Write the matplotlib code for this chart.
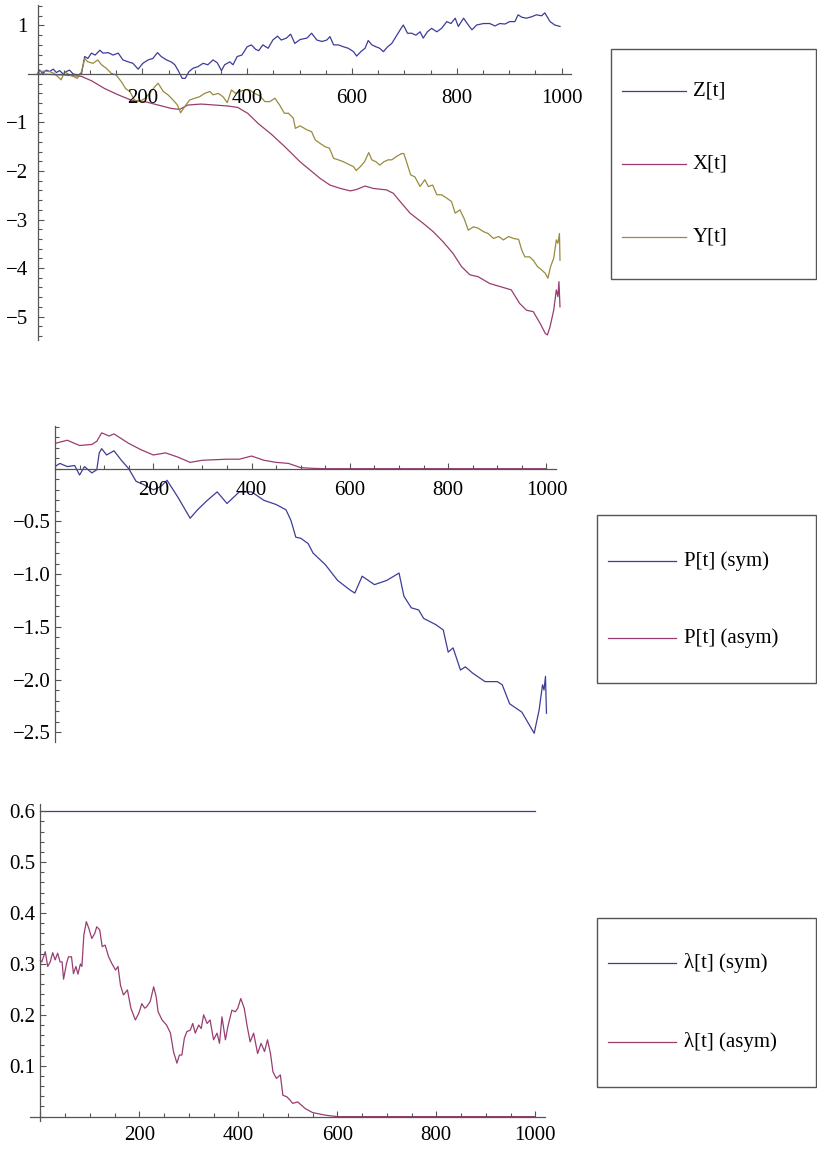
import numpy as np
import matplotlib.pyplot as plt
from matplotlib.patches import Rectangle
from matplotlib.lines import Line2D
from matplotlib.ticker import MultipleLocator, FuncFormatter

# ---- data ----
t_z = [0, 4, 10, 17, 23, 30, 36, 42, 49, 55, 61, 68, 77, 84, 90, 96, 103, 110, 119, 125,
       135, 144, 154, 163, 173, 182, 192, 201, 211, 220, 229, 236, 246, 255, 262, 268, 276, 282,
       289, 297, 306, 316, 325, 335, 343, 351, 357, 367, 373, 381, 390, 400, 408, 416, 422, 430,
       440, 449, 458, 465, 475, 483, 491, 501,
       514, 523, 533, 543, 552, 558, 565, 574, 584, 593, 603, 609, 617, 625, 631, 638, 646, 653,
       660, 668, 676, 684, 692, 698, 706, 714, 722, 730, 736, 744, 752, 762, 771, 781, 789, 797,
       803, 813, 820, 829, 838, 851, 863, 873, 882, 892, 901, 911, 917, 924, 933, 943, 952, 962,
       968, 978, 987, 997]
z_vals = [0.0, 0.08, 0.01, 0.08, 0.05, 0.1, 0.03, 0.07, 0.0, 0.05, 0.08, 0.0, -0.02, 0.01, 0.36,
          0.32, 0.43, 0.39, 0.49, 0.43, 0.44, 0.39, 0.43, 0.29, 0.25, 0.22, 0.1, 0.22, 0.29, 0.32,
          0.44, 0.36, 0.29, 0.25, 0.19, 0.08, -0.09, -0.09, 0.05, 0.12, 0.15, 0.22, 0.19, 0.29,
          0.23, 0.07, 0.19, 0.25, 0.19, 0.36, 0.39, 0.56, 0.6, 0.51, 0.48, 0.6, 0.53, 0.7, 0.78,
          0.7, 0.74, 0.82, 0.63, 0.71,
          0.74, 0.84, 0.7, 0.67, 0.7, 0.77, 0.6, 0.6, 0.56, 0.53, 0.46, 0.37, 0.46, 0.53, 0.69,
          0.6, 0.56, 0.53, 0.46, 0.56, 0.63, 0.77, 0.91, 1.01, 0.84, 0.84, 0.8, 0.87, 0.74, 0.87,
          0.94, 0.87, 0.94, 1.08, 1.04, 1.15, 0.98, 1.15, 1.04, 0.91, 1.01, 1.04, 1.04, 0.99,
          1.04, 1.03, 1.08, 1.08, 1.22, 1.17, 1.15, 1.18, 1.22, 1.2, 1.26, 1.08, 1.01, 0.98]

t_x = [0, 50, 84, 103, 128, 154, 179, 205, 230, 255, 271, 287, 312, 338, 363, 382, 401, 421,
       446, 472, 501, 520, 539, 558, 578, 597, 609, 625, 641, 666, 679, 692, 711, 736, 755, 774,
       793, 809, 825, 841, 863, 882, 904, 920, 933, 946, 959, 969, 973, 978, 985, 990, 993, 995,
       997]
x_vals = [0.0, -0.02, -0.05, -0.14, -0.3, -0.43, -0.54, -0.57, -0.64, -0.71, -0.73, -0.64, -0.62,
          -0.64, -0.66, -0.69, -0.81, -1.02, -1.24, -1.5, -1.81, -1.98, -2.15, -2.29, -2.36,
          -2.41, -2.38, -2.31, -2.36, -2.39, -2.46, -2.63, -2.87, -3.08, -3.25, -3.46, -3.7,
          -3.97, -4.14, -4.18, -4.32, -4.38, -4.45, -4.73, -4.87, -4.9, -5.14, -5.35, -5.38,
          -5.21, -4.87, -4.45, -4.59, -4.28, -4.8]

t_y = [0, 4, 14, 23, 32, 45, 52, 58, 68, 76, 84, 90, 96, 106, 115, 122, 131, 141, 150, 160,
       168, 176, 185, 195, 205, 214, 224, 230, 240, 249, 259, 267, 273, 281, 290, 300, 309, 319,
       329, 335, 345, 354, 362, 370, 378, 386, 395, 405, 414, 424, 434, 443, 453, 462, 471, 479,
       488, 492, 501,
       514, 523, 530, 539, 549, 557, 565, 574, 584, 593, 603, 608, 616, 624, 632, 638, 646, 653,
       661, 669, 676, 685, 695, 699, 705, 712, 720, 730, 739, 746, 754, 762, 771, 781, 790, 797,
       806, 814, 822, 832, 841, 851, 860, 870, 880, 889, 899, 908, 918, 924, 930, 939, 946, 954,
       962, 969, 974, 979, 985, 990, 993, 996, 997]
y_vals = [0.0, 0.05, 0.06, 0.05, 0.01, -0.12, 0.05, 0.0, -0.05, -0.09, 0.05, 0.32, 0.25, 0.22,
          0.29, 0.19, 0.12, 0.01, -0.02, -0.16, -0.3, -0.36, -0.54, -0.57, -0.5, -0.4, -0.26,
          -0.19, -0.36, -0.43, -0.54, -0.64, -0.8, -0.67, -0.54, -0.5, -0.47, -0.4, -0.36, -0.43,
          -0.4, -0.47, -0.59, -0.33, -0.4, -0.36, -0.33, -0.33, -0.4, -0.45, -0.57, -0.57, -0.5,
          -0.64, -0.81, -0.81, -0.91, -1.12, -1.07,
          -1.15, -1.19, -1.36, -1.43, -1.5, -1.53, -1.74, -1.77, -1.81, -1.86, -1.91, -1.99,
          -1.91, -1.81, -1.62, -1.77, -1.81, -1.88, -1.81, -1.77, -1.77, -1.7, -1.64, -1.64,
          -1.84, -2.08, -2.12, -2.32, -2.18, -2.32, -2.29, -2.49, -2.49, -2.56, -2.63, -2.87,
          -2.8, -2.98, -3.22, -3.15, -3.18, -3.25, -3.29, -3.39, -3.35, -3.42, -3.35, -3.39,
          -3.41, -3.63, -3.77, -3.77, -3.84, -3.97, -4.04, -4.11, -4.21, -3.97, -3.8, -3.42,
          -3.49, -3.29, -3.84]

t_psym = [0, 10, 25, 40, 50, 60, 75, 85, 90, 95, 105, 120, 135, 150, 165, 180, 200, 215, 228,
          250, 275, 290, 310, 330, 350, 375, 400, 425, 450, 470, 480, 490, 500, 515, 525, 550,
          575, 600, 610, 625, 650, 675, 700, 710, 725, 740, 750, 775, 790, 800, 810, 825, 835,
          850, 875, 900, 910, 925, 950, 965, 975, 985, 992, 995, 998, 1000]
psym_vals = [0.02, 0.05, 0.02, 0.03, -0.06, 0.02, -0.04, -0.01, 0.15, 0.19, 0.13, 0.17, 0.08,
             0.0, -0.12, -0.15, -0.2, -0.17, -0.11, -0.27, -0.47, -0.39, -0.3, -0.22, -0.33,
             -0.22, -0.22, -0.3, -0.34, -0.39, -0.49, -0.65, -0.66, -0.71, -0.8, -0.91, -1.06,
             -1.15, -1.18, -1.02, -1.1, -1.06, -0.99, -1.21, -1.32, -1.34, -1.42, -1.48, -1.53,
             -1.74, -1.7, -1.91, -1.88, -1.94, -2.02, -2.02, -2.05, -2.23, -2.31, -2.43, -2.51,
             -2.29, -2.05, -2.1, -1.97, -2.32]

t_pasym = [0, 25, 50, 75, 85, 95, 110, 120, 150, 175, 200, 225, 250, 275, 300, 350, 375, 400,
           425, 450, 475, 500, 525, 550, 1000]
pasym_vals = [0.24, 0.27, 0.22, 0.23, 0.26, 0.34, 0.31, 0.33, 0.24, 0.18, 0.13, 0.15, 0.11, 0.06,
              0.08, 0.09, 0.09, 0.12, 0.08, 0.06, 0.05, 0.01, 0.003, 0.0, 0.0]

t_lsym = [0, 1000]
lsym_vals = [0.6, 0.6]

t_lasym = [0, 3, 10, 15, 20, 25, 30, 35, 40, 44, 47, 53, 57, 63, 67, 72, 76, 81, 84, 88,
           93, 98, 104, 110, 114, 120, 125, 131, 138, 145, 152, 157, 162, 168, 176, 183, 192, 199,
           205, 211, 215, 222, 229, 234, 238, 246, 255, 263, 269, 276, 281, 286, 291, 296, 303,
           308, 313, 320, 325, 330, 337, 343, 350, 357, 362, 367, 374, 379, 387, 394, 399, 405,
           412, 418, 424, 431, 439, 446, 453, 459, 465, 470, 477, 485, 490, 498, 504, 510, 520,
           535, 550, 575, 600, 1000]
lasym_vals = [0.307, 0.304, 0.324, 0.295, 0.304, 0.322, 0.308, 0.321, 0.304, 0.304, 0.27, 0.301,
              0.314, 0.314, 0.281, 0.295, 0.28, 0.3, 0.295, 0.357, 0.383, 0.37, 0.35, 0.36,
              0.373, 0.367, 0.334, 0.337, 0.314, 0.3, 0.288, 0.295, 0.258, 0.239, 0.249, 0.213,
              0.19, 0.203, 0.222, 0.213, 0.216, 0.226, 0.255, 0.236, 0.206, 0.19, 0.18, 0.164,
              0.128, 0.105, 0.121, 0.121, 0.154, 0.167, 0.17, 0.183, 0.164, 0.18, 0.173, 0.2,
              0.183, 0.19, 0.151, 0.164, 0.144, 0.196, 0.151, 0.177, 0.209, 0.206, 0.213, 0.232,
              0.213, 0.177, 0.147, 0.164, 0.124, 0.144, 0.128, 0.151, 0.124, 0.088, 0.075, 0.082,
              0.042, 0.039, 0.033, 0.026, 0.029, 0.016, 0.008, 0.003, 0.0, 0.0]

plt.rcParams['font.family'] = ['Liberation Serif', 'DejaVu Serif']
plt.rcParams['font.size'] = 15

BLUE = '#3d3d99'
PURPLE = '#993d71'
OLIVE = '#998b3d'
AXIS = '#555555'
LW = 0.9

W, H = 817, 1149
fig = plt.figure(figsize=(W / 100, H / 100), dpi=100)


def px_axes(x0, x1, y0, y1):
    return fig.add_axes([x0 / W, 1 - y1 / H, (x1 - x0) / W, (y1 - y0) / H])


def fmt(decimals):
    def f(v, pos):
        if abs(v) < 1e-9:
            return ''
        return f'{v:.{decimals}f}'.replace('-', '\u2212')
    return FuncFormatter(f)


def style(ax, ymaj, ymin, ydec, xpad, ypad):
    ax.patch.set_visible(False)
    for s in ('top', 'right'):
        ax.spines[s].set_visible(False)
    for s in ('left', 'bottom'):
        ax.spines[s].set_position(('data', 0))
        ax.spines[s].set_color(AXIS)
        ax.spines[s].set_linewidth(0.9)
    ax.set_axisbelow(False)
    ax.xaxis.set_major_locator(MultipleLocator(200))
    ax.xaxis.set_minor_locator(MultipleLocator(50))
    ax.xaxis.set_major_formatter(fmt(0))
    ax.yaxis.set_major_locator(MultipleLocator(ymaj))
    ax.yaxis.set_minor_locator(MultipleLocator(ymin))
    ax.yaxis.set_major_formatter(fmt(ydec))
    ax.tick_params(which='both', direction='in', color=AXIS, width=0.8, labelcolor='black',
                   labelsize=15)
    ax.tick_params(which='major', length=4.5)
    ax.tick_params(which='minor', length=2.6)
    ax.tick_params(axis='x', pad=xpad)
    ax.tick_params(axis='y', pad=ypad)


def legend_box(box, handles, labels, ys, lx0, lx1, tx):
    x0, y0, x1, y1 = box
    fig.add_artist(Rectangle((x0 / W, 1 - y1 / H), (x1 - x0) / W, (y1 - y0) / H,
                             transform=fig.transFigure, fill=False, ec=AXIS, lw=1.0))
    for h, lab, y in zip(handles, labels, ys):
        fig.add_artist(Line2D([lx0 / W, lx1 / W], [1 - y / H, 1 - y / H],
                              transform=fig.transFigure, color=h.get_color(), lw=LW))
        fig.text(tx / W, 1 - y / H, lab, va='center', ha='left', fontsize=15)


# panel 1
ax1 = px_axes(28.1, 571.0, 5.1, 340.3)
h_z, = ax1.plot(t_z, z_vals, color=BLUE, lw=LW)
h_x, = ax1.plot(t_x, x_vals, color=PURPLE, lw=LW)
h_y, = ax1.plot(t_y, y_vals, color=OLIVE, lw=LW)
ax1.set_xlim(-18, 1018)
ax1.set_ylim(-5.49, 1.42)
style(ax1, 1, 0.2, 0, 11, 7)
legend_box((611, 49, 816, 279), [h_z, h_x, h_y], ['Z[t]', 'X[t]', 'Y[t]'],
           [90.7, 163.7, 236.7], 622, 686, 693)

# panel 2
ax2 = px_axes(55, 556.3, 426.0, 741.7)
h_ps, = ax2.plot(t_psym, psym_vals, color=BLUE, lw=LW)
h_pa, = ax2.plot(t_pasym, pasym_vals, color=PURPLE, lw=LW)
ax2.set_xlim(0, 1020)
ax2.set_ylim(-2.59, 0.405)
style(ax2, 0.5, 0.1, 1, 9, 3)
legend_box((597, 515, 816, 683), [h_ps, h_pa], ['P[t] (sym)', 'P[t] (asym)'],
           [560.7, 638], 608, 676, 684)

# panel 3
ax3 = px_axes(30.4, 545.2, 803.6, 1120.7)
h_ls, = ax3.plot(t_lsym, lsym_vals, color=BLUE, lw=LW)
h_la, = ax3.plot(t_lasym, lasym_vals, color=PURPLE, lw=LW)
ax3.set_xlim(-20, 1020)
ax3.set_ylim(-0.008, 0.615)
style(ax3, 0.1, 0.02, 1, 7, 3.3)
legend_box((597, 918, 816, 1087), [h_ls, h_la], ['\u03bb[t] (sym)', '\u03bb[t] (asym)'],
           [963.3, 1041.7], 608, 676, 684)

fig.savefig('out.png', dpi=100)
